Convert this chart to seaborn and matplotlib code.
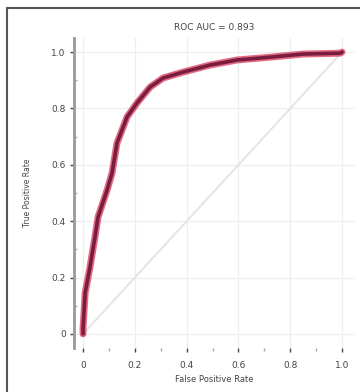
import matplotlib
matplotlib.use("Agg")
import matplotlib.pyplot as plt
import seaborn as sns
import pandas as pd
from matplotlib.lines import Line2D

# ROC curve points
fpr = [0.0, 0.0, 0.008, 0.027, 0.046, 0.058, 0.093, 0.112, 0.131, 0.170, 0.208,
       0.259, 0.309, 0.386, 0.490, 0.595, 0.722, 0.849, 0.992, 1.0]
tpr = [0.0, 0.02, 0.145, 0.238, 0.344, 0.415, 0.511, 0.571, 0.677, 0.770, 0.819,
       0.876, 0.908, 0.929, 0.954, 0.972, 0.982, 0.993, 0.996, 1.0]
diag = [0.0, 1.0]
tick_values = [0.0, 0.2, 0.4, 0.6, 0.8, 1.0]
tick_labels = ["0", "0.2", "0.4", "0.6", "0.8", "1.0"]
title_text = "ROC AUC = 0.893"
x_label = "False Positive Rate"
y_label = "True Positive Rate"

sns.set_theme(style="white")
plt.rcParams['font.family'] = ['DejaVu Sans']

fig = plt.figure(figsize=(3.6, 3.92), dpi=100)
ax = fig.add_axes([74 / 360, 1 - 348 / 392, (355 - 74) / 360, (348 - 38) / 392])

df = pd.DataFrame({"fpr": fpr, "tpr": tpr})
dd = pd.DataFrame({"x": diag, "y": diag})

sns.lineplot(data=dd, x="x", y="y", ax=ax, color="#e4e4e4", lw=1.4, zorder=1)
sns.lineplot(data=df, x="fpr", y="tpr", ax=ax, color="#d83a5a", lw=5.0,
             sort=False, estimator=None, zorder=3, alpha=0.75)
sns.lineplot(data=df, x="fpr", y="tpr", ax=ax, color="#7a1c40", lw=2.6,
             sort=False, estimator=None, zorder=4)

ax.set_xlim(-0.035, 1.05)
ax.set_ylim(-0.05, 1.05)
ax.set_xticks(tick_values)
ax.set_xticklabels(tick_labels)
ax.set_yticks(tick_values)
ax.set_yticklabels(tick_labels)
ax.set_xticks([0.1, 0.3, 0.5, 0.7, 0.9], minor=True)
ax.set_yticks([0.1, 0.3, 0.5, 0.7, 0.9], minor=True)

ax.grid(True, which="major", color="#efefef", lw=0.9)
for s in ["top", "right", "bottom"]:
    ax.spines[s].set_visible(False)
ax.spines["left"].set_color("#999999")
ax.spines["left"].set_linewidth(2.0)

ax.tick_params(axis="both", which="major", labelsize=6.5, colors="#444444",
               length=3, width=1.0, pad=3, bottom=True, left=True)
ax.tick_params(axis="x", which="major", pad=6)
ax.tick_params(axis="both", which="minor", length=2.5, width=1.0,
               color="#aaaaaa", bottom=True, left=True)
ax.tick_params(axis="y", which="minor", direction="in")

ax.set_title(title_text, fontsize=6.5, color="#444444", pad=6)
ax.set_xlabel(x_label, fontsize=6, color="#444444", labelpad=4)
ax.set_ylabel(y_label, fontsize=5.5, color="#444444", labelpad=14)

# figure frame (left and top edges visible in the reference)
fig.add_artist(Line2D([7 / 360, 7 / 360], [0, 1 - 8 / 392], transform=fig.transFigure,
                      color="#555555", lw=1.5))
fig.add_artist(Line2D([7 / 360, 1], [1 - 8 / 392, 1 - 8 / 392], transform=fig.transFigure,
                      color="#555555", lw=1.5))

fig.savefig("out.png", dpi=100)
